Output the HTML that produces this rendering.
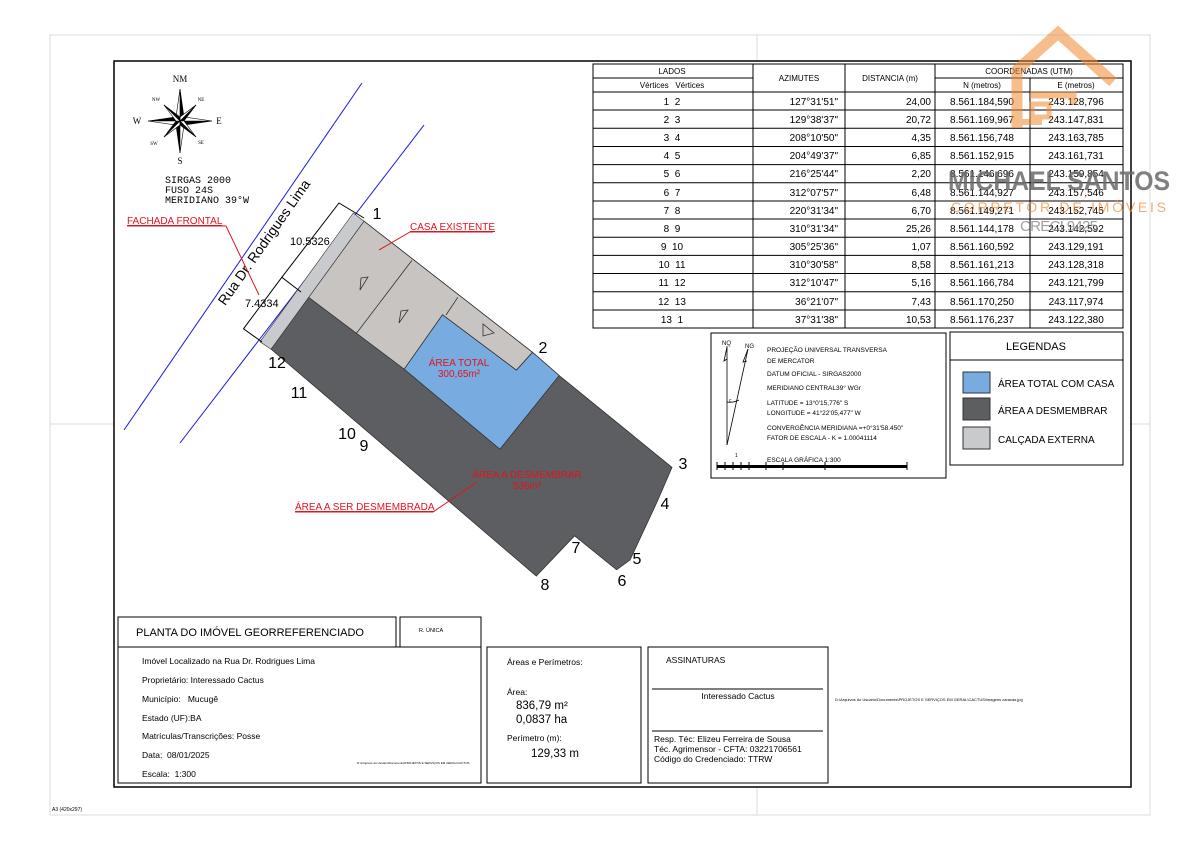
<!DOCTYPE html>
<html><head><meta charset="utf-8"><style>
html,body{margin:0;padding:0;background:#fff;}
svg{display:block;font-family:"Liberation Sans",sans-serif;}
</style></head><body>
<svg width="1200" height="848" viewBox="0 0 1200 848" xmlns="http://www.w3.org/2000/svg">
<rect x="50" y="35" width="1100" height="780" fill="none" stroke="#ddd" stroke-width="1"/>
<line x1="757" y1="35" x2="757" y2="61" stroke="#ddd"/>
<line x1="757" y1="787" x2="757" y2="815" stroke="#ddd"/>
<line x1="50" y1="424" x2="114" y2="424" stroke="#ddd"/>
<line x1="1131" y1="424" x2="1150" y2="424" stroke="#ddd"/>
<rect x="114" y="61" width="1017" height="726" fill="none" stroke="#000" stroke-width="1.5"/>
<text x="52" y="811" font-size="5">A3 (420x297)</text>

<!-- compass -->
<g transform="translate(180,121)" fill="#000" stroke="#000" stroke-width="0.6">
<polygon points="0,-32 4,-4 0,0" /><polygon points="0,-32 -4,-4 0,0" fill="#fff"/>
<polygon points="0,32 -4,4 0,0"/><polygon points="0,32 4,4 0,0" fill="#fff"/>
<polygon points="32,0 4,4 0,0"/><polygon points="32,0 4,-4 0,0" fill="#fff"/>
<polygon points="-32,0 -4,-4 0,0"/><polygon points="-32,0 -4,4 0,0" fill="#fff"/>
<polygon points="16,-16 4,0 0,0"/><polygon points="16,-16 0,-4 0,0" fill="#fff"/>
<polygon points="-16,16 -4,0 0,0"/><polygon points="-16,16 0,4 0,0" fill="#fff"/>
<polygon points="16,16 0,4 0,0"/><polygon points="16,16 4,0 0,0" fill="#fff"/>
<polygon points="-16,-16 0,-4 0,0"/><polygon points="-16,-16 -4,0 0,0" fill="#fff"/>
</g>
<g font-family="Liberation Serif,serif" font-size="9" text-anchor="middle">
<text x="180" y="82">NM</text><text x="180" y="164">S</text><text x="137" y="124">W</text><text x="219" y="124">E</text>
<text x="156" y="101" font-size="5">NW</text><text x="201" y="101" font-size="5">NE</text>
<text x="154" y="145" font-size="5">SW</text><text x="201" y="144" font-size="5">SE</text>
</g>
<g font-family="Liberation Mono,monospace" font-size="10">
<text x="165" y="183">SIRGAS 2000</text><text x="165" y="193">FUSO 24S</text><text x="165" y="203">MERIDIANO 39°W</text>
</g>

<!-- street -->
<line x1="362" y1="83" x2="124" y2="430" stroke="#1a1ae0" stroke-width="1"/>
<line x1="424" y1="125" x2="180" y2="443" stroke="#1a1ae0" stroke-width="1"/>
<text transform="translate(268,245) rotate(-55)" font-size="14" text-anchor="middle">Rua Dr. Rodrigues Lima</text>

<!-- parcel -->
<polygon points="271,349 308.6,297.3 364,221.2 532.5,352.3 559.2,375.5 672,467.4 656.8,502.5 630,560 616.6,569.8 574.6,535.8 536.3,576.1" fill="#5d5e61" stroke="#333" stroke-width="0.8"/>
<polygon points="364,221.2 532.5,352.3 516.4,370.2 442.5,314.8 404.2,369.2 308.6,297.3" fill="#c8c4c2" stroke="#333" stroke-width="0.8"/>
<polygon points="442.5,314.8 516.4,370.2 532.5,352.3 559.2,375.5 499.9,449.2 404.2,369.2" fill="#78ace0" stroke="#333" stroke-width="0.8"/>
<polygon points="353.3,213 364,221.2 271,349.2 260,341.8" fill="#c9cace" stroke="#333" stroke-width="0.6"/>
<line x1="411.9" y1="260.4" x2="356.4" y2="333.4" stroke="#333" stroke-width="0.8"/>
<line x1="457.8" y1="297.3" x2="446" y2="315" stroke="#333" stroke-width="0.8"/>
<g fill="none" stroke="#333" stroke-width="0.8">
<polygon points="361,278 368,277 360,290 z"/><polygon points="401,311 408,310 399,323"/><polygon points="483,324 483,336 494,333"/>
</g>
<!-- dimension lines -->
<g stroke="#000" stroke-width="1" fill="none">
<polyline points="364,218 339,203 281.8,277.3 301,292"/>
<polyline points="281.8,277.3 243.5,328.8 262,342"/>
</g>
<text x="290" y="245" font-size="11">10.5326</text>
<text x="245" y="307" font-size="11">7.4334</text>

<!-- red labels -->
<g fill="#e0141e" font-size="10" text-decoration="underline">
<text x="127" y="224">FACHADA FRONTAL</text>
<text x="410" y="230">CASA EXISTENTE</text>
<text x="295" y="510">ÁREA A SER DESMEMBRADA</text>
</g>
<g stroke="#e0141e" stroke-width="1" fill="none">
<polyline points="127,226 226,226 259,295"/>
<polyline points="493,232 410,232 379,250"/>
<polyline points="295,512 433,512 477,482"/>
</g>
<g fill="#e0141e" font-size="10" text-anchor="middle">
<text x="459" y="366">ÁREA TOTAL</text><text x="459" y="377">300,65m²</text>
<text x="527" y="478">ÁREA A DESMEMBRAR</text><text x="527" y="489">536m²</text>
</g>
<g font-size="16" text-anchor="middle">
<text x="377" y="219">1</text><text x="543" y="353">2</text><text x="683" y="469">3</text><text x="665" y="509">4</text>
<text x="637" y="564">5</text><text x="622" y="586">6</text><text x="576" y="553">7</text><text x="545" y="590">8</text>
<text x="364" y="451">9</text><text x="347" y="439">10</text><text x="299" y="398">11</text><text x="277" y="368">12</text>
</g>

<!-- table -->
<g stroke="#000" stroke-width="1" fill="none">
<rect x="593" y="64" width="530" height="264"/>
<line x1="593" y1="78" x2="753" y2="78"/><line x1="935" y1="78" x2="1123" y2="78"/>
<line x1="593" y1="92" x2="1123" y2="92"/>
<line x1="753" y1="64" x2="753" y2="328"/><line x1="845" y1="64" x2="845" y2="328"/>
<line x1="935" y1="64" x2="935" y2="328"/><line x1="1030" y1="78" x2="1030" y2="328"/>
<line x1="593" y1="110" x2="1123" y2="110"/><line x1="593" y1="128.3" x2="1123" y2="128.3"/>
<line x1="593" y1="146.5" x2="1123" y2="146.5"/><line x1="593" y1="164.6" x2="1123" y2="164.6"/>
<line x1="593" y1="182.8" x2="1123" y2="182.8"/><line x1="593" y1="201" x2="1123" y2="201"/>
<line x1="593" y1="219" x2="1123" y2="219"/><line x1="593" y1="237.2" x2="1123" y2="237.2"/>
<line x1="593" y1="255.4" x2="1123" y2="255.4"/><line x1="593" y1="273.5" x2="1123" y2="273.5"/>
<line x1="593" y1="291.7" x2="1123" y2="291.7"/><line x1="593" y1="310" x2="1123" y2="310"/>
</g>
<g font-size="8" text-anchor="middle">
<text x="672" y="74">LADOS</text><text x="672" y="88">Vértices&#160;&#160;&#160;Vértices</text>
<text x="799" y="81">AZIMUTES</text><text x="890" y="81">DISTANCIA (m)</text>
<text x="1029" y="74">COORDENADAS (UTM)</text><text x="982" y="88">N (metros)</text><text x="1076" y="88">E (metros)</text>
</g>
<g font-size="10">
<g text-anchor="middle">
<text x="672" y="105">1&#160;&#160;2</text><text x="672" y="123">2&#160;&#160;3</text><text x="672" y="141">3&#160;&#160;4</text><text x="672" y="159">4&#160;&#160;5</text><text x="672" y="177">5&#160;&#160;6</text><text x="672" y="196">6&#160;&#160;7</text><text x="672" y="214">7&#160;&#160;8</text><text x="672" y="232">8&#160;&#160;9</text><text x="672" y="250">9&#160;&#160;10</text><text x="672" y="268">10&#160;&#160;11</text><text x="672" y="286">11&#160;&#160;12</text><text x="672" y="305">12&#160;&#160;13</text><text x="672" y="323">13&#160;&#160;1</text>
<text x="982" y="105">8.561.184,590</text><text x="982" y="123">8.561.169,967</text><text x="982" y="141">8.561.156,748</text><text x="982" y="159">8.561.152,915</text><text x="982" y="177">8.561.146,696</text><text x="982" y="196">8.561.144,927</text><text x="982" y="214">8.561.149,271</text><text x="982" y="232">8.561.144,178</text><text x="982" y="250">8.561.160,592</text><text x="982" y="268">8.561.161,213</text><text x="982" y="286">8.561.166,784</text><text x="982" y="305">8.561.170,250</text><text x="982" y="323">8.561.176,237</text>
<text x="1076" y="105">243.128,796</text><text x="1076" y="123">243.147,831</text><text x="1076" y="141">243.163,785</text><text x="1076" y="159">243.161,731</text><text x="1076" y="177">243.159,854</text><text x="1076" y="196">243.157,546</text><text x="1076" y="214">243.152,745</text><text x="1076" y="232">243.142,592</text><text x="1076" y="250">243.129,191</text><text x="1076" y="268">243.128,318</text><text x="1076" y="286">243.121,799</text><text x="1076" y="305">243.117,974</text><text x="1076" y="323">243.122,380</text>
</g>
<g text-anchor="end">
<text x="838" y="105">127°31'51"</text><text x="838" y="123">129°38'37"</text><text x="838" y="141">208°10'50"</text><text x="838" y="159">204°49'37"</text><text x="838" y="177">216°25'44"</text><text x="838" y="196">312°07'57"</text><text x="838" y="214">220°31'34"</text><text x="838" y="232">310°31'34"</text><text x="838" y="250">305°25'36"</text><text x="838" y="268">310°30'58"</text><text x="838" y="286">312°10'47"</text><text x="838" y="305">36°21'07"</text><text x="838" y="323">37°31'38"</text>
<text x="931" y="105">24,00</text><text x="931" y="123">20,72</text><text x="931" y="141">4,35</text><text x="931" y="159">6,85</text><text x="931" y="177">2,20</text><text x="931" y="196">6,48</text><text x="931" y="214">6,70</text><text x="931" y="232">25,26</text><text x="931" y="250">1,07</text><text x="931" y="268">8,58</text><text x="931" y="286">5,16</text><text x="931" y="305">7,43</text><text x="931" y="323">10,53</text>
</g></g>

<!-- projection box -->
<rect x="711" y="333" width="235" height="145" fill="none" stroke="#000" stroke-width="1"/>
<g stroke="#000" stroke-width="0.8" fill="none">
<line x1="727" y1="346" x2="727" y2="445"/><line x1="748" y1="349" x2="727" y2="445"/>
<polyline points="727,347 724,361 727,359"/><polyline points="748,349 743,362 747,361"/>
<path d="M727,402 Q733,403 739,400"/>
</g>
<text x="722" y="345" font-size="6">NQ</text><text x="745" y="348" font-size="6">NG</text><text x="729" y="402" font-size="5">c</text>
<g font-size="6.5">
<text x="767" y="352">PROJEÇÃO UNIVERSAL TRANSVERSA</text><text x="767" y="363">DE MERCATOR</text>
<text x="767" y="376">DATUM OFICIAL - SIRGAS2000</text><text x="767" y="390">MERIDIANO CENTRAL39° WGr</text>
<text x="767" y="405">LATITUDE  = 13°0'15,776" S</text><text x="767" y="415">LONGITUDE = 41°22'05,477" W</text>
<text x="767" y="430">CONVERGÊNCIA MERIDIANA =+0°31'58.450"</text><text x="767" y="440">FATOR DE ESCALA - K  =    1.00041114</text>
<text x="767" y="462">ESCALA GRÁFICA  1:300</text><text x="735" y="457" font-size="5">1</text>
</g>
<rect x="717" y="465" width="190" height="3" fill="#000"/>
<g stroke="#000"><line x1="717" y1="462" x2="717" y2="470"/><line x1="725" y1="462" x2="725" y2="470"/><line x1="733" y1="462" x2="733" y2="470"/><line x1="741" y1="462" x2="741" y2="470"/><line x1="749" y1="462" x2="749" y2="470"/><line x1="766" y1="462" x2="766" y2="470"/><line x1="783" y1="462" x2="783" y2="470"/><line x1="825" y1="462" x2="825" y2="470"/><line x1="907" y1="462" x2="907" y2="470"/></g>

<!-- legend -->
<rect x="950" y="332" width="173" height="133" fill="none" stroke="#000" stroke-width="1"/>
<line x1="950" y1="360" x2="1123" y2="360" stroke="#000"/>
<text x="1036" y="350" font-size="11" text-anchor="middle">LEGENDAS</text>
<rect x="963" y="372" width="27" height="21" fill="#78ace0" stroke="#333"/>
<rect x="963" y="398" width="27" height="22" fill="#5d5e61" stroke="#333"/>
<rect x="963" y="427" width="27" height="22" fill="#c9cace" stroke="#333"/>
<g font-size="10"><text x="998" y="387">ÁREA TOTAL COM CASA</text><text x="998" y="414">ÁREA A DESMEMBRAR</text><text x="998" y="443">CALÇADA EXTERNA</text></g>

<!-- bottom -->
<g stroke="#000" stroke-width="1" fill="none">
<rect x="118" y="617" width="278" height="30"/><rect x="400" y="617" width="81" height="30"/>
<rect x="118" y="647" width="363" height="136"/>
<rect x="487" y="647" width="154" height="136"/>
<rect x="648" y="647" width="180" height="136"/>
<line x1="652" y1="689" x2="823" y2="689"/><line x1="652" y1="731" x2="823" y2="731"/>
</g>
<text x="136" y="636" font-size="11">PLANTA DO IMÓVEL GEORREFERENCIADO</text>
<text x="419" y="632" font-size="5.5">R. ÚNICA</text>
<g font-size="8.5">
<text x="142" y="664">Imóvel Localizado na Rua Dr. Rodrigues Lima</text>
<text x="142" y="683">Proprietário: Interessado Cactus</text>
<text x="142" y="702">Município:&#160;&#160;&#160;Mucugê</text>
<text x="142" y="721">Estado (UF):BA</text>
<text x="142" y="739">Matrículas/Transcrições: Posse</text>
<text x="142" y="758">Data:&#160;&#160;08/01/2025</text>
<text x="142" y="777">Escala:&#160;&#160;1:300</text>
<text x="507" y="665">Áreas e Perímetros:</text>
<text x="507" y="695">Área:</text>
<text x="507" y="741">Perímetro (m):</text>
<text x="666" y="663">ASSINATURAS</text>
<text x="738" y="699" text-anchor="middle">Interessado Cactus</text>
<text x="654" y="742">Resp. Téc: Elizeu Ferreira de Sousa</text>
<text x="654" y="752">Téc. Agrimensor  -  CFTA: 03221706561</text>
<text x="654" y="762">Código do Credenciado: TTRW</text>
</g>
<g font-size="11.5">
<text x="516" y="709">836,79 m²</text><text x="516" y="723">0,0837 ha</text><text x="531" y="757">129,33 m</text>
</g>
<text x="357" y="764" font-size="3">D:\Arquivos do Usuario\Documents\PROJETOS E SERVIÇOS EM GERAL\CACTUS</text>
<text x="835" y="701" font-size="4">D:\Arquivos do Usuario\Documents\PROJETOS E SERVIÇOS EM GERAL\CACTUS\imagens caracas.jpg</text>

<!-- watermark -->
<g opacity="0.55" stroke="#f08a30" fill="none" stroke-linejoin="miter">
<polyline points="1017,128 1017,70 1058,33 1113,82" stroke-width="11"/>
<polyline points="1030,95 1073,95 1073,104" stroke-width="7"/>
<rect x="1032" y="104" width="17" height="13" stroke-width="5"/>
<line x1="1012" y1="122" x2="1042" y2="122" stroke-width="6"/>
</g>
<text x="948" y="190" font-size="27" font-weight="bold" fill="#6b6b6b" opacity="0.85" textLength="222" lengthAdjust="spacingAndGlyphs">MICHAEL SANTOS</text>
<text x="951" y="212" font-size="14" fill="#f08a30" opacity="0.7" textLength="215" lengthAdjust="spacing">CORRETOR DE IMÓVEIS</text>
<text x="1020" y="231" font-size="15" fill="#888" opacity="0.8" textLength="78">CRECI 9425</text>
</svg>
</body></html>
